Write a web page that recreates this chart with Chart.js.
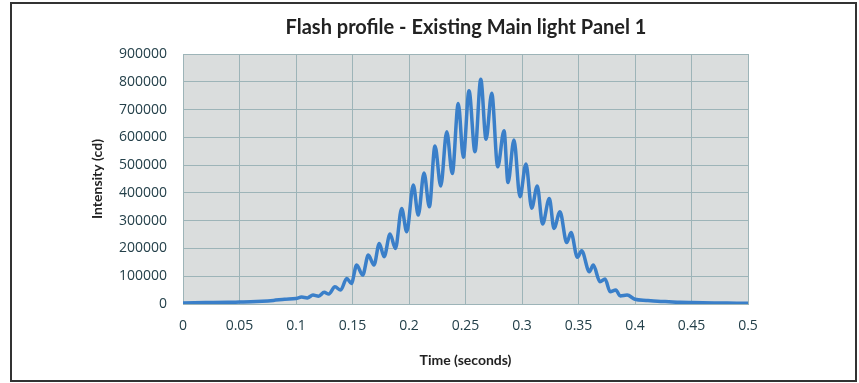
<!DOCTYPE html>
<html>
<head>
<meta charset="utf-8">
<script src="https://cdn.jsdelivr.net/npm/chart.js@4"></script>
<style>
  html, body { margin: 0; padding: 0; background: #fff; }
  canvas { display: block; }
</style>
</head>
<body>
<canvas id="flash" width="859" height="383"></canvas>
<script>
// time (s) and intensity (cd) at peaks/troughs
var times = [0, 0.02, 0.04, 0.05, 0.06, 0.07, 0.08, 0.09, 0.10, 0.105, 0.11, 0.115, 0.12, 0.125, 0.129,
    0.1345, 0.1395, 0.1449, 0.149, 0.1537, 0.159, 0.1640, 0.169, 0.1737, 0.178,
    0.1832, 0.188, 0.1935, 0.198, 0.2038, 0.2082, 0.2133, 0.218, 0.2230, 0.2281,
    0.2334, 0.2383, 0.2436, 0.2481, 0.2531, 0.2584, 0.2635, 0.2682, 0.2732, 0.2785,
    0.2841, 0.2876, 0.2929, 0.2982, 0.3035, 0.3086, 0.3135, 0.3182, 0.3242, 0.3283,
    0.3336, 0.3396, 0.3434, 0.349, 0.3528, 0.3596, 0.3631, 0.369, 0.3735, 0.378,
    0.383, 0.387, 0.393, 0.40, 0.41, 0.42, 0.43, 0.44, 0.45, 0.47, 0.49, 0.5];
var intensity = [4000, 5000, 6000, 7000, 8000, 10000, 13000, 17000, 20000, 25000, 22000, 32000, 28000, 42000, 36000,
    62000, 50000, 92000, 74000, 140000, 104000, 176000, 140000, 218000, 170000,
    252000, 200000, 344000, 260000, 428000, 320000, 472000, 350000, 569000, 425000,
    620000, 470000, 722000, 528000, 768000, 548000, 809000, 593000, 759000, 494000,
    624000, 437000, 590000, 386000, 504000, 345000, 425000, 288000, 380000, 272000,
    332000, 221000, 257000, 168000, 192000, 116000, 140000, 80000, 90000, 44000,
    50000, 29000, 32000, 17000, 13000, 10000, 8000, 6000, 5000, 3500, 3000, 2500];
var xTicks = [0, 0.05, 0.1, 0.15, 0.2, 0.25, 0.3, 0.35, 0.4, 0.45, 0.5];

var points = times.map(function(t, i){ return {x: t, y: intensity[i]}; });

var gridColor = '#9db4b8';
var tickColor = '#24404a';

var frame = {
    id: 'frame',
    beforeDraw: function(chart){
        var ctx = chart.ctx, a = chart.chartArea;
        ctx.save();
        ctx.fillStyle = '#dadddd';
        ctx.fillRect(a.left, a.top, a.right - a.left, a.bottom - a.top);
        ctx.restore();
    },
    afterDraw: function(chart){
        var ctx = chart.ctx;
        ctx.save();
        ctx.strokeStyle = '#333';
        ctx.lineWidth = 2;
        ctx.strokeRect(11, 3, 845, 378);
        ctx.restore();
    }
};

new Chart(document.getElementById('flash').getContext('2d'), {
    type: 'line',
    data: {
        datasets: [{
            data: points,
            borderColor: '#3a7fc9',
            borderWidth: 3.5,
            pointRadius: 0,
            cubicInterpolationMode: 'monotone',
            fill: false
        }]
    },
    options: {
        responsive: false,
        animation: false,
        layout: { padding: { left: 80, right: 7, top: 10, bottom: 14 } },
        plugins: {
            legend: { display: false },
            tooltip: { enabled: false },
            title: {
                display: true,
                text: 'Flash profile - Existing Main light Panel 1',
                color: '#222',
                font: { family: 'Lato', size: 20, weight: 'bold' },
                padding: { top: 6, bottom: 14 }
            }
        },
        scales: {
            x: {
                type: 'linear',
                min: 0, max: 0.5,
                afterBuildTicks: function(axis){
                    axis.ticks = xTicks.map(function(v){ return {value: v}; });
                },
                afterFit: function(axis){ axis.height = 65; },
                grid: { color: gridColor, drawTicks: false },
                border: { color: gridColor },
                ticks: {
                    color: tickColor, padding: 14, maxRotation: 0, autoSkip: false,
                    font: { family: 'Open Sans', size: 14 },
                    callback: function(v){ return String(Math.round(v * 100) / 100); }
                },
                title: {
                    display: true, text: 'Time (seconds)', color: '#222',
                    font: { family: 'Lato', size: 14, weight: 'bold' },
                    padding: { top: 0, bottom: 0 }
                }
            },
            y: {
                min: 0, max: 900000,
                afterFit: function(axis){ axis.width = 103; },
                grid: { color: gridColor, drawTicks: false },
                border: { color: gridColor },
                ticks: {
                    stepSize: 100000, color: tickColor, padding: 16,
                    font: { family: 'Open Sans', size: 14 },
                    callback: function(v){ return String(v); }
                },
                title: {
                    display: true, text: 'Intensity (cd)', color: '#222',
                    font: { family: 'Lato', size: 14, weight: 'bold' },
                    padding: { top: 9, bottom: 0 }
                }
            },
            y2: {
                position: 'right',
                display: true,
                min: 0, max: 900000,
                afterFit: function(axis){ axis.width = 104; },
                grid: { display: false, drawTicks: false },
                border: { display: false },
                ticks: { display: false }
            }
        }
    },
    plugins: [frame]
});
</script>
</body>
</html>
